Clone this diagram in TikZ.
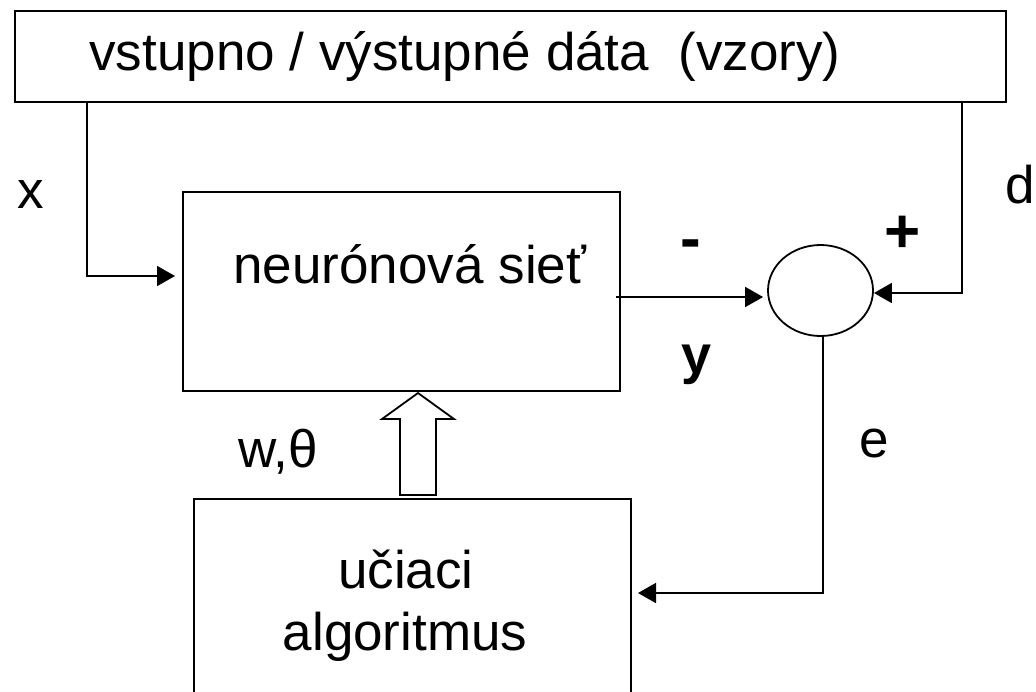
\documentclass[tikz,border=0pt]{standalone}
\usepackage{fontspec}
\setmainfont{Liberation Sans}
\usetikzlibrary{arrows.meta,shapes.geometric,fit}
\tikzset{
  blk/.style={draw, line width=1pt, inner sep=0pt},
  conn/.style={line width=0.9pt},
  arr/.style={conn, -{Triangle[length=9pt,width=10pt]}},
  lbl/.style={inner sep=0pt, font=\fontsize{26.5}{31}\selectfont},
  sgn/.style={inner sep=0pt, font=\fontsize{31}{36}\selectfont\bfseries},
}
\begin{document}
\begin{tikzpicture}[x=0.5pt,y=-0.5pt]
\useasboundingbox (0,0) rectangle (1036,691);
\clip (0,0) rectangle (1036,691);

% blocks
\node[blk, fit={(15,11) (1006,102)}] (data) {};
\node[lbl, anchor=base west] (datatext) at (89,70) {vstupno / výstupné dáta\ \ (vzory)};

\node[blk, fit={(183,192) (620,391)}] (net) {};
\node[lbl, anchor=base west] (nettext) at (233,283) {neurónová sieť};

\node[draw, line width=0.9pt, ellipse, minimum width=52.5pt, minimum height=45.5pt, inner sep=0pt] (sum) at (820.5,290.5) {};

% learning block runs past the lower edge
\node[blk, fit={(194,499) (631,760)}] (algo) {};
\node[lbl, anchor=base] (algotext1) at (406,588) {učiaci};
\node[lbl, anchor=base] (algotext2) at (405,650) {algoritmus};

% helper coordinates for the connector routes
\coordinate (xcol) at (87,0);
\coordinate (dcol) at (962,0);
\coordinate (xin) at (183,276);
\coordinate (yout) at (616,297);
\coordinate (ecor) at (0,593);

% connectors
\draw[arr, shorten >=4pt] (data.south -| xcol) |- (xin);
\draw[arr, shorten >=2pt] (yout) -- (yout -| sum.west);
\draw[arr] (data.south -| dcol) |- ([yshift=-1.25pt]sum.east);
\draw[arr, shorten >=3pt] ([xshift=1.25pt]sum.south) |- (algo.east |- ecor);

% hollow arrow carrying the weights
\draw[line width=0.9pt, fill=white]
  (400,495) -- (400,419) -- (382,419) -- (418,393) -- (454,419)
  -- (436,419) -- (436,495) -- cycle;

% labels
\node[lbl, anchor=base west] (lx) at (17,208) {x};
\node[lbl, anchor=base west] (ld) at (1005,203) {d};
\node[sgn, anchor=base] (lminus) at (691,259) {-};
\node[sgn, anchor=base] (lplus) at (903,252) {+};
\node[lbl, anchor=base west, font=\fontsize{27}{32}\selectfont\bfseries] (ly) at (681,373) {y};
\node[lbl, anchor=base west] (le) at (859,457) {e};
\node[lbl, anchor=base west] (lw) at (238,467) {w,θ};
\end{tikzpicture}
\end{document}
